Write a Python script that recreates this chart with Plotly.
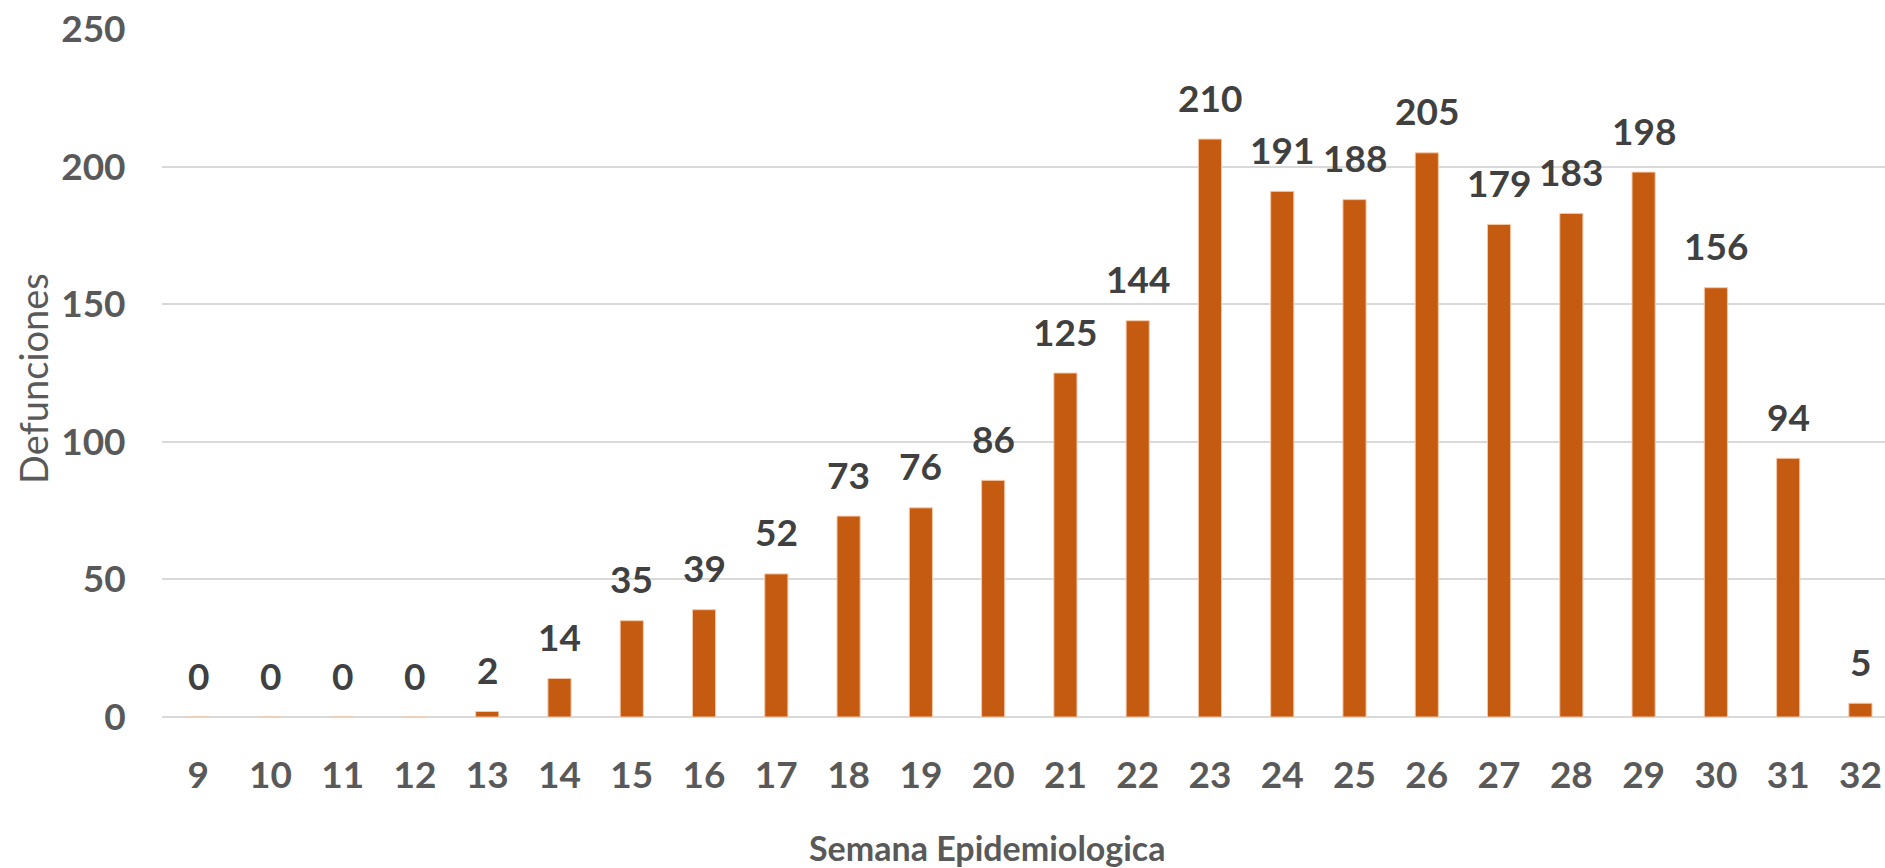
import plotly.graph_objects as go

weeks = [str(w) for w in range(9, 33)]
deaths = [0, 0, 0, 0, 2, 14, 35, 39, 52, 73, 76, 86, 125, 144, 210, 191, 188, 205, 179, 183, 198, 156, 94, 5]
y_ticks = [0, 50, 100, 150, 200, 250]

FONT = "Lato"
fig = go.Figure()
fig.add_trace(go.Bar(
    x=weeks, y=deaths, width=0.32,
    marker=dict(color="#C55A11", line=dict(color="#F4C9A8", width=1)),
    hoverinfo="x+y",
))

for i, d in enumerate(deaths):
    fig.add_annotation(x=i, y=d, text=str(d), showarrow=False, yshift=42,
                       xanchor="center", yanchor="middle",
                       font=dict(family=FONT, size=37, color="#404040", weight="bold"))

fig.add_annotation(xref="paper", yref="paper", x=0.4788, y=-0.189, text="Semana Epidemiologica",
                   xanchor="center", yanchor="middle",
                   showarrow=False, font=dict(family=FONT, size=34, color="#595959", weight="bold"))
fig.add_annotation(xref="paper", yref="paper", x=-0.0749, y=0.4927, text="Defunciones", textangle=-90,
                   xanchor="center", yanchor="middle",
                   showarrow=False, font=dict(family=FONT, size=38, color="#595959"))

fig.update_layout(
    width=1885, height=868,
    margin=dict(l=162, r=0, t=29, b=151),
    paper_bgcolor="white", plot_bgcolor="white",
    showlegend=False,
    xaxis=dict(type="category", range=[-0.5, 23.34], showgrid=False, showline=False,
               ticks="outside", ticklen=26, tickcolor="rgba(0,0,0,0)",
               tickfont=dict(family=FONT, size=37, color="#595959", weight="bold")),
    yaxis=dict(range=[0, 250], tickvals=y_ticks, showgrid=True, gridcolor="#D9D9D9", gridwidth=2,
               zeroline=True, zerolinecolor="#D9D9D9", zerolinewidth=2, showline=False,
               ticks="outside", ticklen=28, tickcolor="rgba(0,0,0,0)",
               tickfont=dict(family=FONT, size=37, color="#595959", weight="bold")),
)
fig.write_html("out.html", config={"displayModeBar": False},
               post_script="document.body.style.margin='0';document.body.style.overflow='hidden';")
